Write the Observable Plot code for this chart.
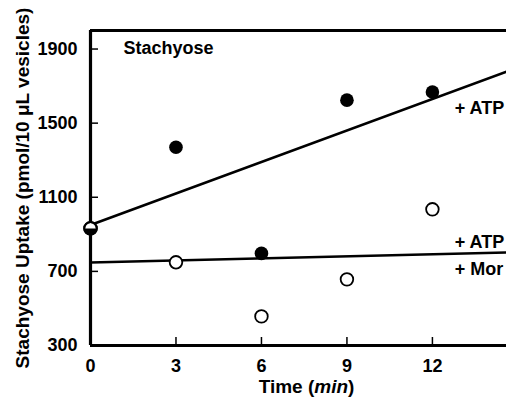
<!DOCTYPE html>
<html>
<head>
<meta charset="utf-8">
<script src="https://cdn.jsdelivr.net/npm/d3@7"></script>
<script src="https://cdn.jsdelivr.net/npm/@observablehq/plot@0.6"></script>
<style>
  html, body { margin: 0; padding: 0; background: #fff; overflow: hidden; }
  svg { font-family: "Liberation Sans", Arial, sans-serif; }
</style>
</head>
<body>
<div id="chart"></div>
<script>
// Data
const times = [0, 3, 6, 9, 12];
const atp = [932, 1370, 797, 1624, 1668];        // filled circles
const atpMor = [932, 749, 457, 657, 1035];       // open circles
const fitTimes = [0, 14.6];
const fitAtp = [950, 1778];
const fitAtpMor = [748, 802];
const xTicks = [0, 3, 6, 9, 12];
const yTicks = [300, 700, 1100, 1500, 1900];
const panelLabel = "Stachyose";
const seriesLabels = [
  {t: 12.78, v: 1578, text: "+ ATP"},
  {t: 12.78, v: 855, text: "+ ATP"},
  {t: 12.78, v: 712, text: "+ Mor"}
];
const yTitle = "Stachyose Uptake (pmol/10 \u03BCL vesicles)";

const filled = times.map((t, i) => ({t, v: atp[i]}));
const open = times.map((t, i) => ({t, v: atpMor[i]}));
const lineA = fitTimes.map((t, i) => ({t, v: fitAtp[i]}));
const lineB = fitTimes.map((t, i) => ({t, v: fitAtpMor[i]}));

const halfDisk = {
  draw(context, size) {
    const r = Math.sqrt(size / Math.PI);
    context.moveTo(r, 0);
    context.arc(0, 0, r, 0, Math.PI);
    context.closePath();
  }
};

const plot = Plot.plot({
  width: 506,
  height: 401,
  marginLeft: 90,
  marginRight: 0,
  marginTop: 30,
  marginBottom: 56,
  style: {fontFamily: "Liberation Sans, Arial, sans-serif", fontSize: "18px", fontWeight: "bold", background: "white", overflow: "hidden"},
  x: {domain: [0, 14.6]},
  y: {domain: [300, 2000]},
  marks: [
    // tick labels
    Plot.axisY(yTicks, {tickSize: 0, tickPadding: 13, label: null, tickFormat: d3.format("d"), fontSize: 18, fontWeight: "bold"}),
    Plot.axisX(xTicks, {tickSize: 0, tickPadding: 14, label: null, tickFormat: d3.format("d"), fontSize: 18, fontWeight: "bold"}),
    // inward ticks
    Plot.axisY(yTicks, {tickSize: 7, dx: 8, text: null, label: null, strokeWidth: 1.5}),
    Plot.axisX(xTicks, {tickSize: 7, dy: -8, text: null, label: null, strokeWidth: 1.5}),
    // frame lines
    Plot.ruleX([0], {strokeWidth: 3.2}),
    Plot.ruleY([300], {strokeWidth: 3.2}),
    Plot.ruleY([2000], {strokeWidth: 3.2}),
    // fitted lines
    Plot.line(lineA, {x: "t", y: "v", strokeWidth: 2.6}),
    Plot.line(lineB, {x: "t", y: "v", strokeWidth: 2.6}),
    // data points
    Plot.dot(open, {x: "t", y: "v", r: 6.3, fill: "white", stroke: "black", strokeWidth: 1.8}),
    Plot.dot(filled, {x: "t", y: "v", r: 6.8, fill: "black", stroke: "none", filter: (d, i) => i > 0}),
    Plot.dot(filled, {x: "t", y: "v", r: 6.3, fill: "black", stroke: "none", symbol: halfDisk, filter: (d, i) => i === 0}),
    Plot.dot(open, {x: "t", y: "v", r: 6.3, fill: "none", stroke: "black", strokeWidth: 2, filter: (d, i) => i === 0}),
    // labels
    Plot.text([panelLabel], {frameAnchor: "top-left", dx: 33, dy: 11, textAnchor: "start", fontSize: 18, fontWeight: "bold"}),
    Plot.text(seriesLabels, {x: "t", y: "v", text: "text", textAnchor: "start", fontSize: 18, fontWeight: "bold"}),
    Plot.text([yTitle], {frameAnchor: "left", textAnchor: "middle", rotate: -90, dx: -68, fontSize: 19, fontWeight: "bold"}),
    Plot.text(["Time (min)"], {frameAnchor: "bottom", dx: 8, dy: 47, fontSize: 19, fontWeight: "bold", className: "xlabel"})
  ]
});

// italic "min" in the x-axis title
const xl = d3.select(plot).select(".xlabel text");
if (!xl.empty()) {
  xl.text(null);
  xl.append("tspan").text("Time (");
  xl.append("tspan").attr("font-style", "italic").text("min");
  xl.append("tspan").text(")");
}

document.getElementById("chart").appendChild(plot);
</script>
</body>
</html>
